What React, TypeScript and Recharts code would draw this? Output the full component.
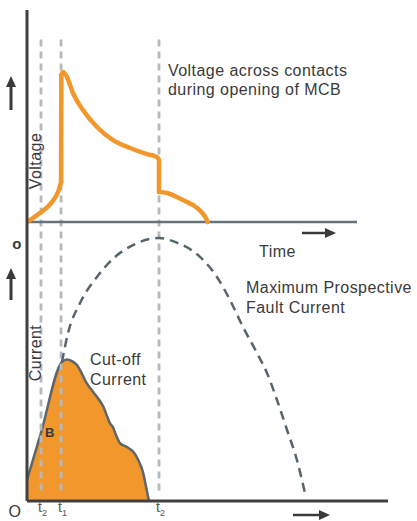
import { ComposedChart, Line, Area, XAxis, YAxis, ReferenceLine } from "recharts";

// time in arbitrary units (second t2 = 10), values normalised so the peaks are ~100
const timeMarks = [1.06, 2.58, 10];
const timeSubs = ["2", "1", "2"];

// voltage across contacts, in pieces: rise, arc jump, decay, drop, tail
const riseT = [0, 0.98, 1.89, 2.35, 2.58];
const riseV = [0, 6.0, 13.4, 20.1, 26.8];
const jumpT = [2.58, 2.6];
const jumpV = [26.8, 98.7];
const decayT = [2.6, 2.73, 3.03, 3.48, 4.24, 5.3, 6.52, 7.8, 9.09, 9.85, 10];
const decayV = [98.7, 100.7, 97.3, 86.6, 75.2, 63.8, 55.0, 49.7, 45.6, 43.6, 41.6];
const dropT = [10, 10];
const dropV = [41.6, 20.1];
const tailT = [10, 10.6, 11.8, 12.9, 13.5, 13.7];
const tailV = [20.1, 19.5, 14.8, 9.4, 3.4, 0];

const currentT = [0, 1.06, 2.65, 3.03, 3.41, 3.79, 4.02, 4.52, 4.9, 5.28, 5.78, 6.08, 6.29, 6.49, 6.8, 7.05, 7.55, 8.05, 8.43, 8.81, 9.07, 9.24, 9.32];
const currentI = [8.0, 25.9, 52.9, 53.8, 53.2, 51.7, 49.8, 44.8, 42.2, 39.7, 35.9, 32.1, 29.5, 28.3, 24.4, 21.9, 20.6, 18.7, 15.6, 10.5, 4.2, 0.4, 0];

const prospectT = [2.65, 3.11, 4.02, 5.3, 6.67, 8.03, 10, 11.21, 13.11, 14.39, 15.38, 16.36, 17.42, 18.18, 18.94, 19.7, 20.45, 21.06];
const prospectI = [52.9, 63.9, 75.3, 85.2, 92.8, 97.3, 100, 98.5, 92.8, 85.2, 76.4, 66.2, 56.3, 48.7, 38.4, 27.0, 15.6, 3.0];

const toV = (ts: number[], vs: number[]) => ts.map((t, i) => ({ t, v: vs[i] }));
const voltagePieces = [
  { key: "rise", data: toV(riseT, riseV), curve: "monotone" },
  { key: "jump", data: toV(jumpT, jumpV), curve: "linear" },
  { key: "decay", data: toV(decayT, decayV), curve: "monotone" },
  { key: "drop", data: toV(dropT, dropV), curve: "linear" },
  { key: "tail", data: toV(tailT, tailV), curve: "monotone" },
];
const currentData = currentT.map((t, i) => ({ t, i: currentI[i] }));
const prospectData = prospectT.map((t, i) => ({ t, p: prospectI[i] }));

const ORANGE = "#F2972C";
const FONT = "'Liberation Sans', Arial, sans-serif";
const TEXT = "#3a3a3a";

const TimeTick = (props: any) => {
  const { x, y, payload } = props;
  const idx = timeMarks.indexOf(payload.value);
  return (
    <text x={x - 3} y={y + 3} fontFamily={FONT} fontSize={14} fill="#555">
      t
      <tspan fontSize={9} dy={4}>
        {timeSubs[idx]}
      </tspan>
    </text>
  );
};

const Overlay = () => (
  <svg
    width={417}
    height={521}
    style={{ position: "absolute", left: 0, top: 0, pointerEvents: "none" }}
    fontFamily={FONT}
  >
    <g fill="#3a3a3a" stroke="#3a3a3a">
      <line x1={11} y1={110} x2={11} y2={86} strokeWidth={3} />
      <polygon points="6,87 16,87 11,76" stroke="none" />
      <line x1={11} y1={300} x2={11} y2={278} strokeWidth={3} />
      <polygon points="6,279 16,279 11,268" stroke="none" />
      <line x1={302} y1={233} x2={326} y2={233} strokeWidth={2.5} />
      <polygon points="325,228 325,238 336,233" stroke="none" />
      <line x1={293} y1={515} x2={320} y2={515} strokeWidth={2.5} />
      <polygon points="319,510 319,520 330,515" stroke="none" />
    </g>
    <g fill={TEXT} fontSize={16} letterSpacing={0.45}>
      <text x={168} y={76}>Voltage across contacts</text>
      <text x={168} y={95}>during opening of MCB</text>
      <text x={259} y={257}>Time</text>
      <text x={246} y={293}>Maximum Prospective</text>
      <text x={246} y={313}>Fault Current</text>
      <text x={90} y={365}>Cut-off</text>
      <text x={90} y={385}>Current</text>
      <text transform="translate(41,161) rotate(-90)" textAnchor="middle">
        Voltage
      </text>
      <text transform="translate(41,353) rotate(-90)" textAnchor="middle">
        Current
      </text>
      <text x={15} y={517} textAnchor="middle">
        O
      </text>
      <text x={17} y={249} textAnchor="middle" fontWeight="bold" fontSize={15}>
        o
      </text>
      <text x={45} y={437} fontWeight="bold" fontSize={13}>
        B
      </text>
    </g>
  </svg>
);

export default function App() {
  return (
    <div style={{ position: "absolute", left: 0, top: 0, width: 417, height: 521, background: "#fff" }}>
      <ComposedChart width={417} height={521} margin={{ top: 10, right: 29, bottom: 0, left: 0 }}>
        <XAxis
          type="number"
          dataKey="t"
          domain={[0, 27.35]}
          ticks={timeMarks}
          interval={0}
          tick={<TimeTick />}
          tickLine={false}
          height={20}
          axisLine={{ stroke: "#404040", strokeWidth: 3 }}
          allowDataOverflow
        />
        <YAxis
          yAxisId="i"
          type="number"
          domain={[0, 186.7]}
          width={27}
          tick={false}
          tickLine={false}
          axisLine={{ stroke: "#404040", strokeWidth: 3 }}
          allowDataOverflow
        />
        <YAxis yAxisId="v" type="number" domain={[-187.2, 142.3]} hide allowDataOverflow />
        {timeMarks.map((t) => (
          <ReferenceLine
            key={t}
            yAxisId="i"
            segment={[
              { x: t, y: 4 },
              { x: t, y: 177 },
            ]}
            stroke="#b5b9bd"
            strokeWidth={2.8}
            strokeDasharray="7 5"
          />
        ))}
        <ReferenceLine
          yAxisId="v"
          segment={[
            { x: 0, y: 0 },
            { x: 25, y: 0 },
          ]}
          stroke="#66737a"
          strokeWidth={2.5}
        />
        <Area
          yAxisId="i"
          data={currentData}
          dataKey="i"
          type="monotone"
          baseValue={0}
          stroke="#5b666d"
          strokeWidth={2.5}
          fill={ORANGE}
          fillOpacity={1}
          isAnimationActive={false}
          dot={false}
          activeDot={false}
        />
        <Line
          yAxisId="i"
          data={prospectData}
          dataKey="p"
          type="monotone"
          stroke="#56656c"
          strokeWidth={2.5}
          strokeDasharray="9 6"
          dot={false}
          activeDot={false}
          isAnimationActive={false}
        />
        {voltagePieces.map((p) => (
          <Line
            key={p.key}
            yAxisId="v"
            data={p.data}
            dataKey="v"
            type={p.curve as any}
            stroke={ORANGE}
            strokeWidth={4.5}
            strokeLinejoin="round"
            strokeLinecap="round"
            dot={false}
            activeDot={false}
            isAnimationActive={false}
          />
        ))}
      </ComposedChart>
      <Overlay />
    </div>
  );
}
